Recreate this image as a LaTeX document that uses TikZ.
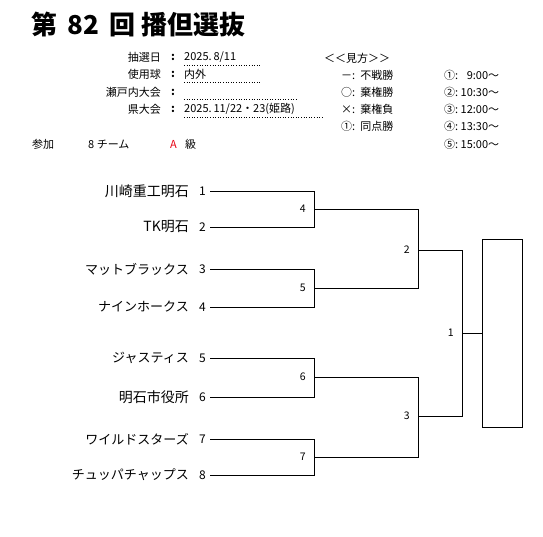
\documentclass[tikz,border=0pt]{standalone}
\usepackage{fontspec}
\setmainfont{Noto Sans CJK JP}
\usepackage{xcolor}
\usetikzlibrary{positioning,calc}
\definecolor{Cred}{RGB}{230,0,18}

\begin{document}
\begin{tikzpicture}[
  x=1pt, y=-1pt,
  every node/.style = {inner sep=1pt},
  titletext/.style = {anchor=west, font=\fontsize{26}{29}\selectfont\bfseries},
  infolabel/.style = {anchor=east, font=\fontsize{11}{13}\selectfont},
  infoval/.style   = {anchor=west, font=\fontsize{11}{13}\selectfont},
  legend/.style    = {anchor=west, font=\fontsize{11}{13}\selectfont},
  teamname/.style  = {anchor=east, font=\fontsize{13}{15}\selectfont},
  teamkanji/.style = {anchor=east, font=\fontsize{14}{16}\selectfont},
  seedno/.style    = {anchor=east, inner sep=4pt, font=\fontsize{12}{14}\selectfont},
  matchno/.style   = {anchor=east, inner sep=8pt, font=\fontsize{10.5}{12}\selectfont},
  bline/.style     = {semithick, black},
  uline/.style     = {dotted, semithick}
]
\useasboundingbox (0,0) rectangle (543,536);

%% ---------- Heading ----------
\node[titletext] (title) at (30,25) {第\,\ 82\,\ 回\ 播但選抜};

%% ---------- Info rows ----------
\node[infolabel] (lab1) at (162,57)  {抽選日};
\node[infolabel] (lab2) at (162,74)  {使用球};
\node[infolabel] (lab3) at (162,92)  {瀬戸内大会};
\node[infolabel] (lab4) at (162,109) {県大会};
\foreach \y in {57,74,92,109}
  \node[font=\fontsize{11}{13}\selectfont\bfseries] at (173,\y) {:};
\node[infoval] (val1) at (183,57)  {2025.\,8/11};
\node[infoval] (val2) at (183,74)  {内外};
\node[infoval] (val4) at (183,109) {2025.\,11/22・23(姫路)};
\draw[uline] (184,65)  -- (260,65);
\draw[uline] (184,82)  -- (260,82);
\draw[uline] (184,99)  -- (297,99);
\draw[uline] (184,117) -- (322,117);

%% ---------- Legend ----------
\node[legend] (key)  at (323,58)  {＜＜見方＞＞};
\node[legend] (key1) at (340,75)  {－:\hspace{5pt}不戦勝};
\node[legend] (key2) at (340,92)  {○:\hspace{5pt}棄権勝};
\node[legend] (key3) at (340,109) {×:\hspace{5pt}棄権負};
\node[legend] (key4) at (340,126) {①:\hspace{5pt}同点勝};
\node[legend] (time1) at (443,75)  {①:\ \phantom{1}9:00～};
\node[legend] (time2) at (443,92)  {②:\ 10:30～};
\node[legend] (time3) at (443,109) {③:\ 12:00～};
\node[legend] (time4) at (443,126) {④:\ 13:30～};
\node[legend] (time5) at (443,144) {⑤:\ 15:00～};

\node[legend] (entry) at (31,144)  {参加};
\node[legend] (count) at (87,144)  {8 チーム};
\node[legend, text=Cred] (grade) at (169,144) {A};
\node[legend] (gradek) at (184,144) {級};

%% ---------- Teams ----------
\foreach \i/\y/\kind/\name in {1/191/teamkanji/川崎重工明石, 2/227/teamkanji/TK明石,
                         3/269/teamname/マットブラックス, 4/307/teamname/ナインホークス,
                         5/358/teamname/ジャスティス, 6/397/teamkanji/明石市役所,
                         7/439/teamname/ワイルドスターズ, 8/475/teamname/チュッパチャップス}{
  \node[\kind]  (n\i) at (190,\y) {\name};
  \node[seedno] (s\i) at (210,\y) {\i};
}

%% ---------- Junctions ----------
\coordinate (m4) at (314,209);
\coordinate (m5) at (314,288);
\coordinate (m6) at (314,377);
\coordinate (m7) at (314,457);
\coordinate (m2) at (418,250);
\coordinate (m3) at (418,416);
\coordinate (m1) at (462,333);

\node[draw, bline, minimum width=40pt, minimum height=188pt] (champ) at (502,333) {};

%% ---------- Bracket lines ----------
\draw[bline] (s1.east) -| (m4);  \draw[bline] (s2.east) -| (m4);
\draw[bline] (s3.east) -| (m5);  \draw[bline] (s4.east) -| (m5);
\draw[bline] (s5.east) -| (m6);  \draw[bline] (s6.east) -| (m6);
\draw[bline] (s7.east) -| (m7);  \draw[bline] (s8.east) -| (m7);

\draw[bline] (m4) -| (m2);  \draw[bline] (m5) -| (m2);
\draw[bline] (m6) -| (m3);  \draw[bline] (m7) -| (m3);

\draw[bline] (m2) -| (m1);  \draw[bline] (m3) -| (m1);
\draw[bline] (m1) -- (champ.west);

%% ---------- Match numbers ----------
\node[matchno] (g4) at (m4) {4};
\node[matchno] (g5) at (m5) {5};
\node[matchno] (g6) at (m6) {6};
\node[matchno] (g7) at (m7) {7};
\node[matchno] (g2) at (m2) {2};
\node[matchno] (g3) at (m3) {3};
\node[matchno] (g1) at (m1) {1};

\end{tikzpicture}
\end{document}
